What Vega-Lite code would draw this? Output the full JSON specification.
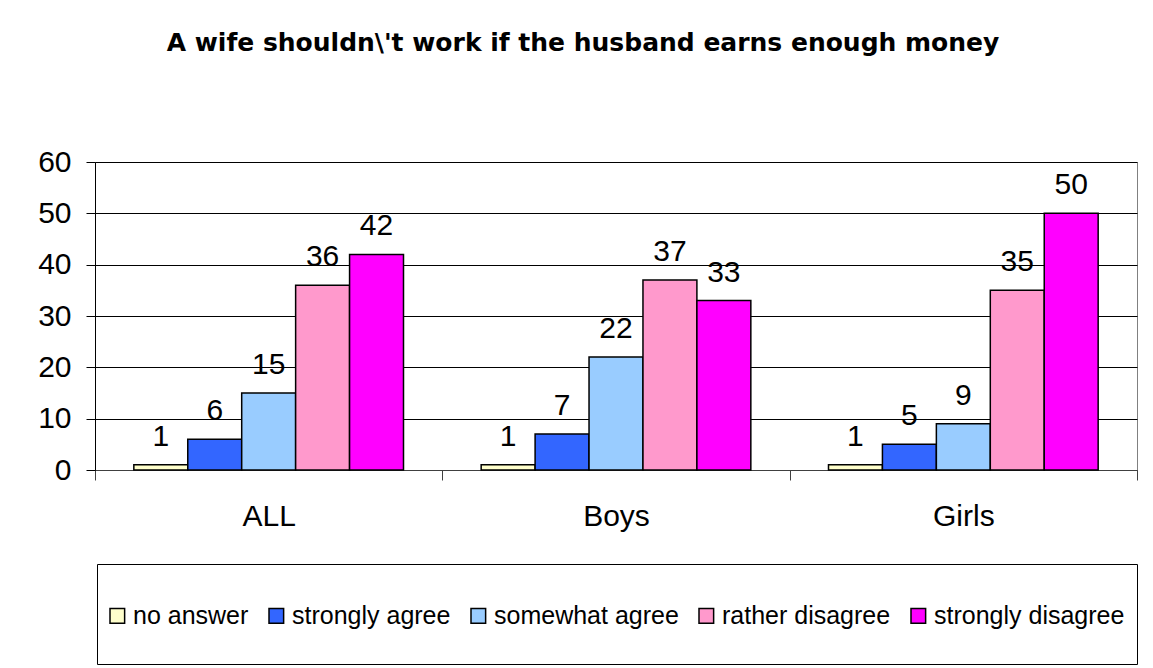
{
  "$schema": "https://vega.github.io/schema/vega-lite/v6.json",
  "width": 1042,
  "height": 308,
  "autosize": {"type": "none"},
  "padding": {"left": 95, "top": 162, "right": 16, "bottom": 198},
  "background": "white",
  "config": {
    "font": "Liberation Sans",
    "view": {"stroke": "#808080", "strokeWidth": 1}
  },
  "title": {
    "text": "A wife shouldn\\'t work if the husband earns enough money",
    "font": "DejaVu Sans",
    "fontSize": 25,
    "fontWeight": "bold",
    "color": "black",
    "anchor": "middle",
    "frame": "group",
    "baseline": "alphabetic",
    "offset": 71,
    "dx": -33
  },
  "data": {
    "values": [
      {"group": "ALL", "answer": "no answer", "value": 1},
      {"group": "ALL", "answer": "strongly agree", "value": 6},
      {"group": "ALL", "answer": "somewhat agree", "value": 15},
      {"group": "ALL", "answer": "rather disagree", "value": 36},
      {"group": "ALL", "answer": "strongly disagree", "value": 42},
      {"group": "Boys", "answer": "no answer", "value": 1},
      {"group": "Boys", "answer": "strongly agree", "value": 7},
      {"group": "Boys", "answer": "somewhat agree", "value": 22},
      {"group": "Boys", "answer": "rather disagree", "value": 37},
      {"group": "Boys", "answer": "strongly disagree", "value": 33},
      {"group": "Girls", "answer": "no answer", "value": 1},
      {"group": "Girls", "answer": "strongly agree", "value": 5},
      {"group": "Girls", "answer": "somewhat agree", "value": 9},
      {"group": "Girls", "answer": "rather disagree", "value": 35},
      {"group": "Girls", "answer": "strongly disagree", "value": 50}
    ]
  },
  "encoding": {
    "x": {
      "field": "group",
      "type": "nominal",
      "sort": ["ALL", "Boys", "Girls"],
      "scale": {"paddingInner": 0, "paddingOuter": 0},
      "axis": {
        "title": null,
        "labelAngle": 0,
        "tickBand": "extent",
        "tickSize": 10,
        "tickColor": "#404040",
        "domainColor": "#404040",
        "labelFontSize": 30,
        "labelColor": "black",
        "labelPadding": 21
      }
    },
    "xOffset": {
      "field": "answer",
      "type": "nominal",
      "scale": {
        "domain": ["no answer", "strongly agree", "somewhat agree", "rather disagree", "strongly disagree"],
        "paddingInner": 0,
        "paddingOuter": 0.72
      }
    },
    "y": {
      "field": "value",
      "type": "quantitative",
      "scale": {"domain": [0, 60], "nice": false},
      "axis": {
        "title": null,
        "values": [0, 10, 20, 30, 40, 50, 60],
        "grid": true,
        "gridColor": "black",
        "gridOpacity": 1,
        "tickSize": 9,
        "tickColor": "black",
        "domainColor": "black",
        "labelFontSize": 30,
        "labelColor": "black",
        "labelPadding": 15
      }
    }
  },
  "layer": [
    {
      "mark": {"type": "bar", "stroke": "black", "strokeWidth": 1.5, "opacity": 1},
      "encoding": {
        "color": {
          "field": "answer",
          "type": "nominal",
          "scale": {
            "domain": ["no answer", "strongly agree", "somewhat agree", "rather disagree", "strongly disagree"],
            "range": ["#FFFFCC", "#3366FF", "#99CCFF", "#FF99CC", "#FF00FF"]
          },
          "legend": {
            "title": null,
            "orient": "none",
            "legendX": 2,
            "legendY": 402,
            "direction": "horizontal",
            "labelFontSize": 25,
            "labelColor": "black",
            "labelLimit": 400,
            "symbolType": "M-1,-0.19H-0.62V0.19H-1Z M-1,0.85L-1,0.85",
            "symbolSize": 5929,
            "symbolStrokeColor": "black",
            "symbolStrokeWidth": 1.5,
            "symbolOpacity": 1,
            "labelOffset": -55,
            "columnPadding": 17,
            "padding": 12,
            "strokeColor": "black",
            "fillColor": "white"
          }
        }
      }
    },
    {
      "mark": {"type": "text", "baseline": "alphabetic", "dy": -19, "fontSize": 30, "color": "black"},
      "encoding": {
        "text": {"field": "value", "type": "quantitative"}
      }
    }
  ]
}
